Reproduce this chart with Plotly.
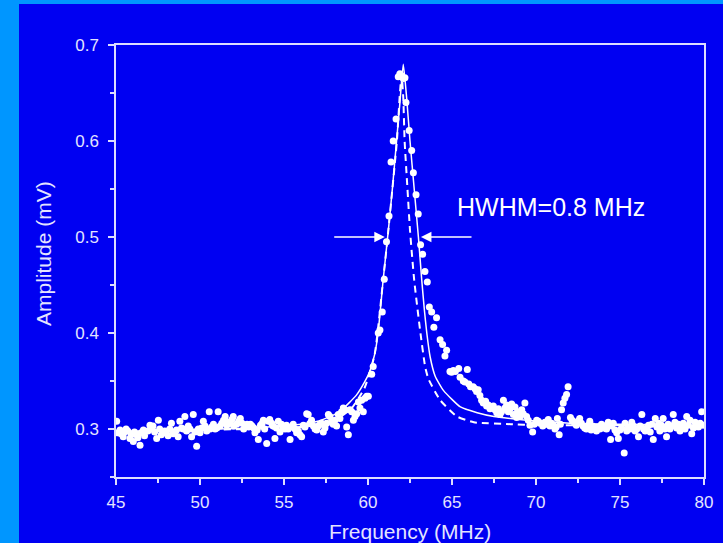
import plotly.graph_objects as go

# ---------------- data ----------------
freq = [45.04, 45.1, 45.24, 45.3, 45.43, 45.5, 45.6, 45.7, 45.83, 45.9, 46.03, 46.1, 46.23, 46.3, 46.43, 46.5,
        46.63, 46.7, 46.9, 47.02, 47.1, 47.2, 47.3, 47.42, 47.52, 47.6, 47.7, 47.82, 47.9, 48.0, 48.1, 48.2,
        48.3, 48.4, 48.5, 48.6, 48.7, 48.8, 48.9, 49.0, 49.1, 49.2, 49.3, 49.4, 49.5, 49.6, 49.7, 49.8, 49.9,
        50.0, 50.1, 50.2, 50.3, 50.4, 50.55, 50.6, 50.7, 50.8, 50.9, 51.0, 51.08, 51.2, 51.3, 51.4, 51.5, 51.6,
        51.7, 51.8, 51.9, 51.98, 52.0, 52.18, 52.3, 52.4, 52.5, 52.6, 52.7, 52.8, 52.9, 53.0, 53.1, 53.2, 53.27,
        53.4, 53.47, 53.6, 53.7, 53.77, 53.85, 53.97, 54.07, 54.15, 54.27, 54.35, 54.46, 54.55, 54.66, 54.76,
        54.85, 54.95, 55.06, 55.15, 55.25, 55.36, 55.46, 55.55, 55.66, 55.75, 55.85, 55.95, 56.05, 56.15, 56.25,
        56.35, 56.44, 56.55, 56.64, 56.75, 56.85, 56.95, 57.04, 57.15, 57.24, 57.34, 57.44, 57.54, 57.64, 57.73,
        57.84, 57.93, 58.03, 58.13, 58.23, 58.33, 58.43, 58.53, 58.63, 58.73, 58.83, 58.93, 59.03, 59.13, 59.23,
        59.33, 59.43, 59.52, 59.62, 59.72, 59.82, 59.92, 60.02, 60.22, 60.31, 60.61, 60.71, 60.85, 60.97, 61.1,
        61.25, 61.37, 61.5, 61.67, 61.8, 61.9, 62.0, 62.1, 62.2, 62.26, 62.45, 62.6, 62.7, 62.86, 62.99, 63.13,
        63.25, 63.39, 63.53, 63.65, 63.79, 63.92, 64.08, 64.29, 64.44, 64.58, 64.68, 64.88, 64.97, 65.08, 65.2,
        65.4, 65.48, 65.67, 65.77, 65.91, 66.0, 66.1, 66.26, 66.37, 66.46, 66.56, 66.66, 66.76, 66.86, 67.0,
        67.06, 67.16, 67.26, 67.35, 67.46, 67.56, 67.66, 67.76, 67.86, 67.95, 68.06, 68.15, 68.25, 68.35, 68.45,
        68.55, 68.65, 68.75, 68.85, 68.9, 69.05, 69.15, 69.24, 69.34, 69.44, 69.54, 69.64, 69.8, 69.9, 70.04,
        70.14, 70.24, 70.4, 70.53, 70.63, 70.73, 70.83, 70.93, 71.03, 71.13, 71.2, 71.27, 71.38, 71.45, 71.52,
        71.62, 71.72, 71.82, 71.91, 72.05, 72.15, 72.3, 72.4, 72.5, 72.6, 72.7, 72.8, 72.9, 73.0, 73.1, 73.2,
        73.28, 73.37, 73.5, 73.6, 73.7, 73.8, 73.9, 74.0, 74.1, 74.2, 74.3, 74.44, 74.5, 74.6, 74.7, 74.8, 74.9,
        75.0, 75.1, 75.25, 75.3, 75.4, 75.5, 75.6, 75.7, 75.8, 75.9, 76.0, 76.1, 76.2, 76.3, 76.4, 76.5, 76.6,
        76.7, 76.8, 76.9, 76.98, 77.1, 77.2, 77.3, 77.37, 77.47, 77.57, 77.67, 77.77, 77.87, 77.97, 78.07, 78.17,
        78.27, 78.37, 78.47, 78.57, 78.67, 78.77, 78.87, 78.97, 79.07, 79.17, 79.27, 79.37, 79.47, 79.57, 79.67,
        79.77, 79.86, 79.95]
amp = [0.308, 0.296, 0.299, 0.295, 0.292, 0.297, 0.300, 0.298, 0.290, 0.294, 0.287, 0.297, 0.294, 0.291, 0.283, 0.296,
       0.299, 0.293, 0.298, 0.304, 0.300, 0.303, 0.297, 0.290, 0.309, 0.300, 0.294, 0.296, 0.298, 0.297, 0.293, 0.300,
       0.306, 0.295, 0.297, 0.299, 0.292, 0.308, 0.301, 0.300, 0.313, 0.298, 0.303, 0.300, 0.292, 0.315, 0.297, 0.282, 0.300,
       0.296, 0.301, 0.308, 0.303, 0.298, 0.318, 0.300, 0.302, 0.305, 0.300, 0.301, 0.318, 0.303, 0.306, 0.309, 0.313, 0.304,
       0.307, 0.306, 0.310, 0.313, 0.303, 0.305, 0.308, 0.311, 0.306, 0.300, 0.303, 0.305, 0.302, 0.305, 0.303, 0.301, 0.296,
       0.299, 0.289, 0.304, 0.306, 0.309, 0.300, 0.285, 0.308, 0.310, 0.306, 0.303, 0.290, 0.301, 0.308, 0.297,
       0.305, 0.302, 0.300, 0.304, 0.300, 0.289, 0.302, 0.305, 0.300, 0.296, 0.298, 0.294, 0.292, 0.304, 0.302,
       0.316, 0.315, 0.306, 0.309, 0.303, 0.300, 0.299, 0.303, 0.305, 0.306, 0.297, 0.301, 0.306, 0.315, 0.313,
       0.308, 0.305, 0.309, 0.303, 0.315, 0.311, 0.318, 0.322, 0.320, 0.302, 0.294, 0.320, 0.318, 0.309, 0.313,
       0.316, 0.328, 0.322, 0.330, 0.318, 0.332, 0.334, 0.334, 0.357, 0.365, 0.400, 0.403, 0.422, 0.456, 0.495,
       0.522, 0.578, 0.600, 0.623, 0.667, 0.670, 0.668, 0.665, 0.666, 0.640, 0.611, 0.590, 0.567, 0.544, 0.524, 0.492,
       0.482, 0.464, 0.453, 0.427, 0.422, 0.406, 0.416, 0.393, 0.388, 0.376, 0.382, 0.360, 0.359, 0.361, 0.360,
       0.363, 0.354, 0.350, 0.349, 0.362, 0.347, 0.344, 0.344, 0.342, 0.339, 0.341, 0.335, 0.330, 0.327, 0.329,
       0.324, 0.325, 0.321, 0.323, 0.324, 0.320, 0.317, 0.321, 0.315, 0.318, 0.330, 0.322, 0.325, 0.318, 0.321,
       0.326, 0.315, 0.323, 0.312, 0.318, 0.313, 0.320, 0.316, 0.327, 0.313, 0.309, 0.304, 0.297, 0.305, 0.309,
       0.308, 0.306, 0.303, 0.307, 0.305, 0.310, 0.303, 0.306, 0.304, 0.300, 0.302, 0.311, 0.294, 0.305, 0.320,
       0.327, 0.332, 0.336, 0.344, 0.312, 0.309, 0.306, 0.304, 0.308, 0.311, 0.306, 0.303, 0.301, 0.300, 0.304, 0.308,
       0.299, 0.303, 0.301, 0.298, 0.302, 0.300, 0.305, 0.301, 0.303, 0.300, 0.307, 0.289, 0.303, 0.306, 0.299, 0.296, 0.290,
       0.299, 0.301, 0.275, 0.306, 0.298, 0.302, 0.300, 0.307, 0.303, 0.298, 0.300, 0.292, 0.303, 0.315, 0.300, 0.298, 0.301,
       0.304, 0.297, 0.305, 0.289, 0.311, 0.302, 0.306, 0.298, 0.304, 0.311, 0.300, 0.292, 0.305, 0.300, 0.303, 0.315,
       0.307, 0.301, 0.305, 0.298, 0.301, 0.306, 0.300, 0.313, 0.304, 0.309, 0.295, 0.301, 0.307, 0.305, 0.302,
       0.306, 0.318, 0.304]

fit_x = [45, 48, 51, 54, 56, 57, 58, 58.5, 59.3, 59.8, 60.1, 60.4, 60.6, 60.9, 61.2, 61.45, 61.7, 61.9, 62.1,
         62.3, 62.5, 62.75, 63.0, 63.2, 63.35, 63.5, 63.7, 64.0, 64.5, 65.5, 66.5, 67.5, 69, 70.2, 72, 75, 80]
fit_y = [0.297, 0.299, 0.300, 0.302, 0.305, 0.308, 0.315, 0.321, 0.335, 0.349, 0.360, 0.378, 0.400, 0.455, 0.505,
         0.550, 0.600, 0.640, 0.680, 0.645, 0.600, 0.550, 0.500, 0.455, 0.425, 0.400, 0.375, 0.355, 0.340, 0.323,
         0.317, 0.313, 0.310, 0.308, 0.306, 0.305, 0.304]

model_x = [45, 50, 55, 57, 58, 59, 59.8, 60.4, 60.9, 61.2, 61.45, 61.72, 61.9, 62.0, 62.1, 62.18, 62.35, 62.5,
           62.75, 63.1, 63.4, 63.6, 64.3, 65.3, 66.3, 68.5, 70, 75, 80]
model_y = [0.297, 0.299, 0.301, 0.304, 0.309, 0.321, 0.343, 0.378, 0.455, 0.505, 0.550, 0.600, 0.650, 0.669, 0.645,
           0.600, 0.550, 0.507, 0.455, 0.403, 0.365, 0.352, 0.330, 0.313, 0.307, 0.305, 0.304, 0.304, 0.303]

x_ticks = [45, 50, 55, 60, 65, 70, 75, 80]
y_ticks = [0.3, 0.4, 0.5, 0.6, 0.7]
y_tick_text = ["0.3", "0.4", "0.5", "0.6", "0.7"]

# ---------------- figure ----------------
BG = "#0000F2"
SIDE = "#0096FF"
AX = "#DCDCFF"
TXT = "#E4E4FF"
FONT = "Liberation Sans, Arial, sans-serif"

W, H = 723, 543
L, R, T, B = 116, 19, 45, 66
PW, PH = W - L - R, H - T - B

fig = go.Figure()
fig.add_trace(go.Scatter(x=freq, y=amp, mode="markers",
                         marker=dict(color="white", size=7, line=dict(width=0)),
                         showlegend=False, hoverinfo="skip"))
fig.add_trace(go.Scatter(x=fit_x, y=fit_y, mode="lines",
                         line=dict(color="white", width=1.5, shape="spline", smoothing=0.5),
                         showlegend=False, hoverinfo="skip"))
fig.add_trace(go.Scatter(x=model_x, y=model_y, mode="lines",
                         line=dict(color="white", width=2, dash="7px,5px", shape="spline", smoothing=0.5),
                         showlegend=False, hoverinfo="skip"))

# arrows marking the half width
fig.add_annotation(x=61.0, y=0.5, ax=57.9, ay=0.5, xref="x", yref="y", axref="x", ayref="y",
                   text="", showarrow=True, arrowhead=2, arrowsize=1.4, arrowwidth=1.5,
                   arrowcolor="white")
fig.add_annotation(x=63.15, y=0.5, ax=66.25, ay=0.5, xref="x", yref="y", axref="x", ayref="y",
                   text="", showarrow=True, arrowhead=2, arrowsize=1.4, arrowwidth=1.5,
                   arrowcolor="white")
fig.add_annotation(x=65.15, y=0.531, xref="x", yref="y", text="HWHM=0.8 MHz", showarrow=False,
                   xanchor="left", yanchor="middle", font=dict(family=FONT, size=25, color="white"))

# axis titles
fig.add_annotation(x=(410 - L) / PW, y=(H - B - 531) / PH, xref="paper", yref="paper",
                   text="Frequency (MHz)", showarrow=False, xanchor="center", yanchor="middle",
                   font=dict(family=FONT, size=21, color=TXT))
fig.add_annotation(x=(43 - L) / PW, y=(H - B - 254) / PH, xref="paper", yref="paper",
                   text="Amplitude (mV)", showarrow=False, xanchor="center", yanchor="middle",
                   textangle=-90, font=dict(family=FONT, size=21, color=TXT))

# dark blue panel over the light blue page (light strip remains at left and top)
fig.add_shape(type="rect", xref="paper", yref="paper",
              x0=(19 - L) / PW, x1=(W + 20 - L) / PW,
              y0=-(B + 20) / PH, y1=(H - B - 4) / PH,
              fillcolor=BG, line=dict(width=0), layer="below")

fig.update_layout(
    width=W, height=H,
    margin=dict(l=L, r=R, t=T, b=B, autoexpand=False),
    paper_bgcolor=SIDE, plot_bgcolor=BG,
    font=dict(family=FONT, color=TXT),
    showlegend=False,
)
fig.update_xaxes(range=[45, 80], tickvals=x_ticks, ticks="outside", ticklen=6, tickwidth=1.5,
                 tickcolor=AX, showline=True, linecolor=AX, linewidth=1.5, mirror=True,
                 showgrid=False, zeroline=False, tickfont=dict(size=17, color=TXT),
                 ticklabelstandoff=3, automargin=False,
                 minor=dict(dtick=2.5, ticks="outside", ticklen=4, tickwidth=1.5, tickcolor=AX))
fig.update_yaxes(range=[0.25, 0.7], tickvals=y_ticks, ticktext=y_tick_text, ticks="outside",
                 ticklen=6, tickwidth=1.5, tickcolor=AX, showline=True, linecolor=AX, linewidth=1.5,
                 mirror=True, showgrid=False, zeroline=False, tickfont=dict(size=17, color=TXT),
                 ticklabelstandoff=6, automargin=False,
                 minor=dict(dtick=0.05, ticks="outside", ticklen=4, tickwidth=1.5, tickcolor=AX))

fig.write_html("out.html")
